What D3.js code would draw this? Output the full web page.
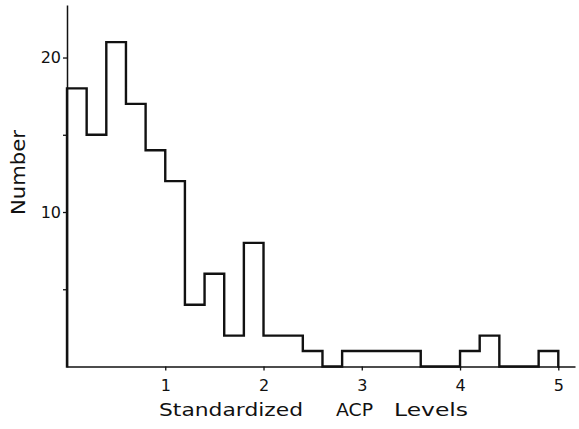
<!DOCTYPE html>
<html>
<head>
<meta charset="utf-8">
<script src="https://cdn.jsdelivr.net/npm/d3@7"></script>
<style>
  html, body { margin:0; padding:0; background:#fff; }
  svg text { font-family:"DejaVu Sans", Arial, sans-serif; fill:#111; }
</style>
</head>
<body>
<svg id="chart" width="579" height="429"></svg>
<script>

// --------------------------------
// histogram data, bin width 0.2
// --------------------------------

var binStarts = [0.0,0.2,0.4,0.6,0.8,1.0,1.2,1.4,1.6,1.8,2.0,2.2,2.4,2.6,2.8,3.0,3.2,3.4,3.6,3.8,4.0,4.2,4.4,4.6,4.8];
var binCounts = [18,15,21,17,14,12,4,6,2,8,2,2,1,0,1,1,1,1,0,0,1,2,0,0,1];
var binWidth  = 0.2;

var xTickValues = [1,2,3,4,5];
var yTickValues = [5,10,15,20];
var yTickLabels = {10:"10", 20:"20"};

var xTitleWords = ["Standardized","ACP","Levels"];
var szYTitle = "Number";

(function(){

	var svg = d3.select("#chart");

	// scales, x axis line runs a little past 5
	var x = d3.scaleLinear().domain([0,5.17]).range([67,575]);
	var y = d3.scaleLinear().domain([0,23.4]).range([366.5,5]);

	// --------------------------------
	// axes
	// --------------------------------
	var gx = svg.append("g")
		.attr("transform","translate(0,"+y(0)+")")
		.call(d3.axisBottom(x).tickValues(xTickValues).tickSize(4).tickPadding(9).tickSizeOuter(0).tickFormat(d3.format("d")));

	var gy = svg.append("g")
		.attr("transform","translate("+x(0)+",0)")
		.call(d3.axisLeft(y).tickValues(yTickValues).tickSize(4).tickPadding(2).tickSizeOuter(0)
			.tickFormat(function(d){ return yTickLabels[d]||""; }));

	[gx,gy].forEach(function(g){
		g.select(".domain").attr("stroke","#111").attr("stroke-width",1.5);
		g.selectAll(".tick line").attr("stroke","#111").attr("stroke-width",1.3);
		g.selectAll(".tick text")
			.attr("style","font-family:'DejaVu Sans',Arial,sans-serif;font-size:16px;fill:#111;");
	});

	// --------------------------------
	// histogram outline as step line
	// --------------------------------
	var pts = [[0,0]];
	binStarts.forEach(function(b,i){ pts.push([b,binCounts[i]]); });
	pts.push([binStarts[binStarts.length-1]+binWidth,0]);

	var line = d3.line()
		.x(function(d){ return x(d[0]); })
		.y(function(d){ return y(d[1]); })
		.curve(d3.curveStepAfter);

	svg.append("path")
		.datum(pts)
		.attr("d",line)
		.attr("style","fill:none;stroke:#111;stroke-width:2.4;stroke-linejoin:miter;stroke-linecap:square;");

	// --------------------------------
	// axis titles (glyphs stretched to the wide lettering)
	// words are spaced apart like in the original print
	// --------------------------------
	var wordPos = [[159,144],[336,37],[394,74]];
	var xTitle = svg.append("text")
		.attr("y",416)
		.attr("style","font-size:18.5px;");
	xTitleWords.forEach(function(w,i){
		xTitle.append("tspan")
			.attr("x",wordPos[i][0])
			.attr("textLength",wordPos[i][1])
			.attr("lengthAdjust","spacingAndGlyphs")
			.text(w);
	});

	svg.append("text")
		.attr("transform","translate(25,215) rotate(-90)")
		.attr("textLength",85)
		.attr("lengthAdjust","spacingAndGlyphs")
		.attr("style","font-size:19px;")
		.text(szYTitle);

})();
</script>
</body>
</html>
